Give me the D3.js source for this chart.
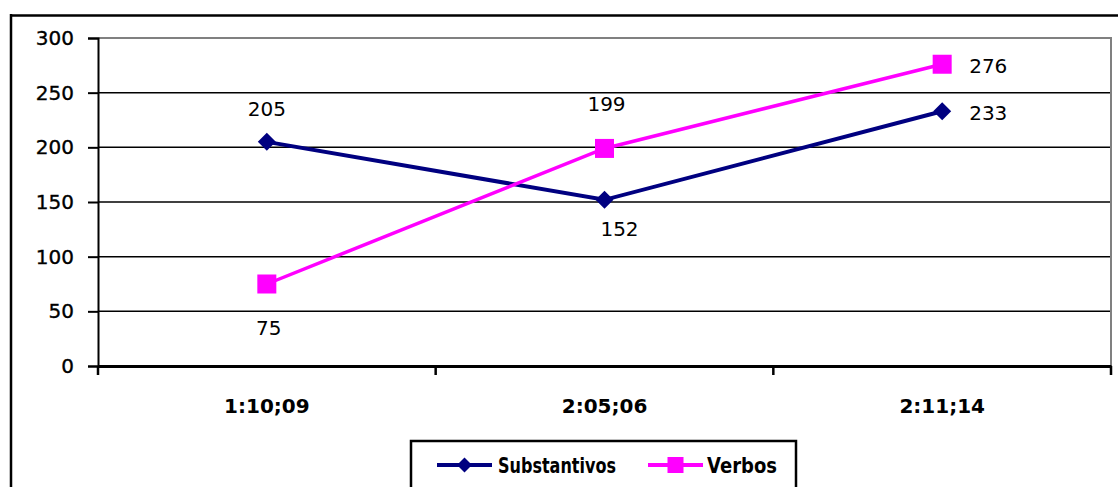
<!DOCTYPE html>
<html>
<head>
<meta charset="utf-8">
<script src="https://cdn.jsdelivr.net/npm/d3@7"></script>
<style>
  html, body { margin: 0; padding: 0; background: #fff; }
  svg { display: block; }
</style>
</head>
<body>
<svg id="chart" width="1118" height="487"></svg>
<script>
const categories = ["1:10;09", "2:05;06", "2:11;14"];
const substantivos = [205, 152, 233];
const verbos = [75, 199, 276];
const seriesNames = ["Substantivos", "Verbos"];
const yTicks = [0, 50, 100, 150, 200, 250, 300];

const svg = d3.select("#chart");
const W = 1118, H = 487;
const plot = { left: 98, right: 1111, top: 38, bottom: 366 };

const x = d3.scaleBand().domain(categories).range([plot.left, plot.right]);
const y = d3.scaleLinear().domain([0, 300]).range([plot.bottom, plot.top]);
const cx = c => x(c) + x.bandwidth() / 2;

// outer chart border (top and left visible)
svg.append("line").attr("x1", 11).attr("x2", W).attr("y1", 15.5).attr("y2", 15.5)
  .attr("stroke", "#000").attr("stroke-width", 2.5);
svg.append("line").attr("x1", 11).attr("x2", 11).attr("y1", 14).attr("y2", H)
  .attr("stroke", "#000").attr("stroke-width", 2.5);

// gridlines
svg.append("g").selectAll("line").data(yTicks.filter(v => v > 0 && v < 300)).join("line")
  .attr("x1", plot.left).attr("x2", plot.right)
  .attr("y1", d => y(d)).attr("y2", d => y(d))
  .attr("stroke", "#000").attr("stroke-width", 1.5);

// plot border top & right (gray)
svg.append("path")
  .attr("d", `M${plot.left},${y(300)}H${plot.right}V${plot.bottom}`)
  .attr("fill", "none").attr("stroke", "#808080").attr("stroke-width", 2);

// y axis
const yAxis = d3.axisLeft(y).tickValues(yTicks).tickSize(10).tickPadding(14);
const gy = svg.append("g").attr("transform", `translate(${plot.left},0)`).call(yAxis);
gy.select(".domain").attr("stroke", "#000").attr("stroke-width", 2);
gy.selectAll(".tick line").attr("stroke", "#000").attr("stroke-width", 2);
gy.selectAll(".tick text").attr("font-family", "DejaVu Sans").attr("font-size", 20)
  .attr("fill", "#000").attr("stroke", "#000").attr("stroke-width", 0.35);

// x axis
const xAxis = d3.axisBottom(x).tickSize(0).tickPadding(33);
const gx = svg.append("g").attr("transform", `translate(0,${plot.bottom})`).call(xAxis);
gx.select(".domain").attr("stroke", "#000").attr("stroke-width", 3);
gx.selectAll(".tick text").attr("font-family", "DejaVu Sans").attr("font-weight", "bold")
  .attr("font-size", 20).attr("fill", "#000");
// boundary ticks
const bounds = categories.map(c => x(c)).concat([plot.right]);
svg.append("g").selectAll("line").data(bounds).join("line")
  .attr("x1", d => d).attr("x2", d => d)
  .attr("y1", plot.bottom).attr("y2", plot.bottom + 9)
  .attr("stroke", "#000").attr("stroke-width", 2.5);

// series
const navy = "#000080", magenta = "#FF00FF";
const line = d3.line().x(d => cx(d.c)).y(d => y(d.v));
const sData = categories.map((c, i) => ({ c, v: substantivos[i] }));
const vData = categories.map((c, i) => ({ c, v: verbos[i] }));

svg.append("path").datum(sData).attr("d", line)
  .attr("fill", "none").attr("stroke", navy).attr("stroke-width", 4);
svg.append("path").datum(vData).attr("d", line)
  .attr("fill", "none").attr("stroke", magenta).attr("stroke-width", 3.5);

const diamond = (px, py, r) => `M${px},${py - r}L${px + r},${py}L${px},${py + r}L${px - r},${py}Z`;
svg.append("g").selectAll("path").data(sData).join("path")
  .attr("d", d => diamond(cx(d.c), y(d.v), 9)).attr("fill", navy);
svg.append("g").selectAll("rect").data(vData).join("rect")
  .attr("x", d => cx(d.c) - 9.5).attr("y", d => y(d.v) - 9.5)
  .attr("width", 19).attr("height", 19).attr("fill", magenta);

// data labels (placement per point as in reference)
const sPlace = [{ dx: 0, dy: -26, a: "middle" }, { dx: 15, dy: 36, a: "middle" }, { dx: 27, dy: 9, a: "start" }];
const vPlace = [{ dx: 2, dy: 51, a: "middle" }, { dx: 2, dy: -37, a: "middle" }, { dx: 27, dy: 9, a: "start" }];
function labels(data, place) {
  svg.append("g").selectAll("text").data(data).join("text")
    .attr("x", (d, i) => cx(d.c) + place[i].dx)
    .attr("y", (d, i) => y(d.v) + place[i].dy)
    .attr("text-anchor", (d, i) => place[i].a)
    .attr("font-family", "DejaVu Sans").attr("font-size", 20).attr("fill", "#000")
    .text(d => d.v);
}
labels(sData, sPlace);
labels(vData, vPlace);

// legend
const lg = svg.append("g");
lg.append("rect").attr("x", 411).attr("y", 441).attr("width", 385).attr("height", 60)
  .attr("fill", "#fff").attr("stroke", "#000").attr("stroke-width", 2.5);
const legendItems = [
  { name: seriesNames[0], color: navy, x0: 437, sym: "d", tx: 498, tw: 118 },
  { name: seriesNames[1], color: magenta, x0: 648, sym: "s", tx: 707, tw: 70 }
];
legendItems.forEach(it => {
  const ly = 465;
  lg.append("line").attr("x1", it.x0).attr("x2", it.x0 + 55).attr("y1", ly).attr("y2", ly)
    .attr("stroke", it.color).attr("stroke-width", 4);
  const mx = it.x0 + 27.5;
  if (it.sym === "d") lg.append("path").attr("d", diamond(mx, ly, 7.5)).attr("fill", it.color);
  else lg.append("rect").attr("x", mx - 8).attr("y", ly - 8).attr("width", 16).attr("height", 16).attr("fill", it.color);
  lg.append("text").attr("x", it.tx).attr("y", ly + 8)
    .attr("font-family", "DejaVu Sans").attr("font-weight", "bold").attr("font-size", 22)
    .attr("textLength", it.tw).attr("lengthAdjust", "spacingAndGlyphs")
    .attr("fill", "#000").text(it.name);
});
</script>
</body>
</html>
